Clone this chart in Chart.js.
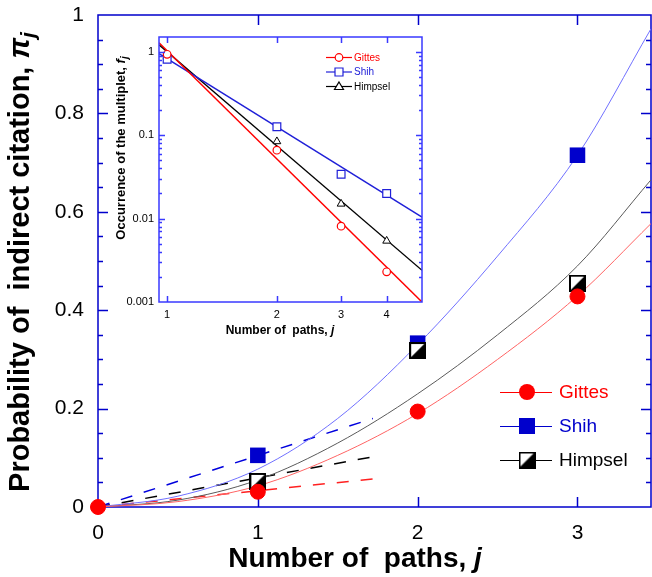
<!DOCTYPE html>
<html>
<head>
<meta charset="utf-8">
<script src="https://cdn.jsdelivr.net/npm/chart.js@4.4.0/dist/chart.umd.min.js"></script>
<style>
  html, body { margin: 0; padding: 0; background: #fff; }
  #wrap { position: relative; width: 652px; height: 577px; }
  #main { position: absolute; left: 0; top: 0; }
  #inset { position: absolute; left: 100px; top: 20px; }
</style>
</head>
<body>
<div id="wrap">
  <canvas id="main" width="652" height="577"></canvas>
  <canvas id="inset" width="340" height="330"></canvas>
</div>
<script>
// ---- main panel data ----
var seriesNames = ['Gittes', 'Shih', 'Himpsel'];
var gittesJ = [0, 1, 2, 3];
var gittesPi = [0, 0.031, 0.194, 0.428];
var shihJ = [1, 2, 3];
var shihPi = [0.105, 0.333, 0.715];
var himpselJ = [1, 2, 3];
var himpselPi = [0.052, 0.318, 0.455];

// fitted curves
var fitJ = [0, 0.5, 1, 1.5, 2, 2.5, 3, 3.46];
var gittesFit = [0, 0.011, 0.043, 0.105, 0.19, 0.3, 0.429, 0.576];
var shihFit = [0, 0.022, 0.077, 0.18, 0.33, 0.51, 0.715, 0.972];
var himpselFit = [0, 0.014, 0.055, 0.13, 0.23, 0.35, 0.49, 0.665];

// dashed lines near the origin
var dashJ = [0, 1.72];
var gittesDash = [0, 0.057];
var shihDash = [0, 0.18];
var himpselDash = [0, 0.102];

var xTicks = [0, 1, 2, 3];
var yTicks = [0, 0.2, 0.4, 0.6, 0.8, 1];

// ---- inset data (log-log) ----
var insetJ = [1, 2, 3, 4];
var gittesF = [0.93, 0.066, 0.0081, 0.0023];
var shihF = [0.81, 0.126, 0.034, 0.020];
var himpselF = [0.89, 0.084, 0.015, 0.0054];
var insetFitJ = [0.95, 5];
var gittesFFit = [1.28, 0.001];
var shihFFit = [0.95, 0.0104];
var himpselFFit = [1.21, 0.0024];
var insetXTicks = [1, 2, 3, 4];
var insetYTicks = [0.001, 0.01, 0.1, 1];

var FONT = "'Liberation Sans', Arial, sans-serif";
var RED = '#ff0000', BLUE = '#0000cc', BLACK = '#000000';

function pts(xs, ys) {
  return xs.map(function (x, i) { return { x: x, y: ys[i] }; });
}

function halfSquare(size) {
  var c = document.createElement('canvas');
  c.width = size; c.height = size;
  var g = c.getContext('2d');
  g.fillStyle = '#fff';
  g.fillRect(0, 0, size, size);
  g.fillStyle = '#000';
  g.beginPath();
  g.moveTo(size, 0); g.lineTo(size, size); g.lineTo(0, size);
  g.closePath(); g.fill();
  g.strokeStyle = '#000'; g.lineWidth = 2;
  g.strokeRect(1, 1, size - 2, size - 2);
  return c;
}
var himpselMark = halfSquare(17);

// rich text: parts drawn one after another, centred on (cx, cy)
function drawRich(ctx, parts, cx, cy, vertical) {
  ctx.save();
  ctx.translate(cx, cy);
  if (vertical) ctx.rotate(-Math.PI / 2);
  ctx.textBaseline = 'alphabetic';
  ctx.textAlign = 'left';
  var total = 0;
  parts.forEach(function (p) { ctx.font = p.font; total += ctx.measureText(p.t).width; });
  var x = -total / 2;
  parts.forEach(function (p) {
    ctx.font = p.font;
    ctx.fillStyle = p.color || '#000';
    ctx.fillText(p.t, x, p.dy || 0);
    x += ctx.measureText(p.t).width;
  });
  ctx.restore();
}

function drawFrame(chart, cfg) {
  var ctx = chart.ctx, a = chart.chartArea;
  var xs = chart.scales.x, ys = chart.scales.y;
  ctx.save();
  ctx.strokeStyle = cfg.color;
  ctx.lineWidth = cfg.width;
  ctx.beginPath();
  cfg.xMajor.forEach(function (v) {
    var p = Math.round(xs.getPixelForValue(v)) + 0.5;
    if (p < a.left + 2 || p > a.right - 2) return;
    ctx.moveTo(p, a.bottom); ctx.lineTo(p, a.bottom - cfg.major);
    ctx.moveTo(p, a.top); ctx.lineTo(p, a.top + cfg.major);
  });
  cfg.yMajor.forEach(function (v) {
    var p = Math.round(ys.getPixelForValue(v)) + 0.5;
    if (p < a.top + 2 || p > a.bottom - 2) return;
    ctx.moveTo(a.left, p); ctx.lineTo(a.left + cfg.major, p);
    ctx.moveTo(a.right, p); ctx.lineTo(a.right - cfg.major, p);
  });
  cfg.yMinor.forEach(function (v) {
    var p = Math.round(ys.getPixelForValue(v)) + 0.5;
    if (p < a.top + 2 || p > a.bottom - 2) return;
    ctx.moveTo(a.left, p); ctx.lineTo(a.left + cfg.minor, p);
    ctx.moveTo(a.right, p); ctx.lineTo(a.right - cfg.minor, p);
  });
  ctx.stroke();
  ctx.strokeRect(a.left, a.top, a.right - a.left, a.bottom - a.top);
  ctx.restore();
}

// fix the axis box sizes and drop the extra label padding Chart.js adds
function fixX(h) {
  return function (s) { s.height = h; s.paddingLeft = 0; s.paddingRight = 0; };
}
function fixY(w) {
  return function (s) { s.width = w; s.paddingTop = 0; s.paddingBottom = 0; };
}

// ---------------- main chart ----------------
var mainMinor = [];
for (var k = 1; k < 20; k++) { if (k % 4) mainMinor.push(k * 0.05); }

var mainPlugin = {
  id: 'mainDecor',
  beforeDatasetsDraw: function (chart) {
    drawFrame(chart, { color: BLUE, width: 1.5, major: 10, minor: 5,
      xMajor: xTicks, yMajor: yTicks, yMinor: mainMinor });
  },
  afterDraw: function (chart) {
    var ctx = chart.ctx;
    drawRich(ctx, [
      { t: 'Probability of  indirect citation, ', font: 'bold 29px ' + FONT },
      { t: '\u03c0', font: 'italic bold 29px ' + FONT },
      { t: 'j', font: 'italic bold 21px ' + FONT, dy: 6 }
    ], 29, 262, true);
    drawRich(ctx, [
      { t: 'Number of  paths, ', font: 'bold 28px ' + FONT },
      { t: 'j', font: 'italic bold 28px ' + FONT }
    ], 355, 567, false);

    // legend
    var rows = [
      { name: seriesNames[0], color: RED, y: 392 },
      { name: seriesNames[1], color: BLUE, y: 426 },
      { name: seriesNames[2], color: BLACK, y: 460 }
    ];
    rows.forEach(function (r, i) {
      ctx.save();
      ctx.strokeStyle = r.color; ctx.lineWidth = 1;
      ctx.beginPath(); ctx.moveTo(500, r.y + 0.5); ctx.lineTo(552, r.y + 0.5); ctx.stroke();
      if (i === 0) {
        ctx.fillStyle = RED; ctx.beginPath(); ctx.arc(527, r.y, 8, 0, Math.PI * 2); ctx.fill();
      } else if (i === 1) {
        ctx.fillStyle = BLUE; ctx.fillRect(519, r.y - 8, 16, 16);
      } else {
        ctx.drawImage(himpselMark, 527 - 8.5, r.y - 8.5);
      }
      ctx.font = '19px ' + FONT;
      ctx.fillStyle = r.color;
      ctx.textBaseline = 'middle';
      ctx.fillText(r.name, 559, r.y + 1);
      ctx.restore();
    });
  }
};

var tickFont = { family: FONT, size: 21 };

new Chart(document.getElementById('main'), {
  type: 'line',
  data: {
    datasets: [
      { label: 'Gittes', data: pts(gittesJ, gittesPi), showLine: false, order: 0, clip: false,
        pointStyle: 'circle', pointRadius: 7.5, pointBackgroundColor: RED, pointBorderColor: RED, pointBorderWidth: 1 },
      { label: 'Himpsel', data: pts(himpselJ, himpselPi), showLine: false, order: 1, clip: false,
        pointStyle: himpselMark, pointRadius: 8 },
      { label: 'Shih', data: pts(shihJ, shihPi), showLine: false, order: 2, clip: false,
        pointStyle: 'rect', pointRadius: 11, pointBackgroundColor: BLUE, pointBorderColor: BLUE, pointBorderWidth: 0 },
      { label: 'Gittes fit', data: pts(fitJ, gittesFit), order: 3, borderColor: '#ff6464', borderWidth: 1,
        pointRadius: 0, cubicInterpolationMode: 'monotone' },
      { label: 'Shih fit', data: pts(fitJ, shihFit), order: 3, borderColor: '#7070ff', borderWidth: 1,
        pointRadius: 0, cubicInterpolationMode: 'monotone' },
      { label: 'Himpsel fit', data: pts(fitJ, himpselFit), order: 3, borderColor: '#5a5a5a', borderWidth: 1,
        pointRadius: 0, cubicInterpolationMode: 'monotone' },
      { label: 'Gittes dash', data: pts(dashJ, gittesDash), order: 4, borderColor: '#ff2020', borderWidth: 1.5,
        borderDash: [12, 12], pointRadius: 0 },
      { label: 'Shih dash', data: pts(dashJ, shihDash), order: 4, borderColor: '#0000dd', borderWidth: 1.5,
        borderDash: [12, 12], pointRadius: 0 },
      { label: 'Himpsel dash', data: pts(dashJ, himpselDash), order: 4, borderColor: '#000000', borderWidth: 1.5,
        borderDash: [12, 12], pointRadius: 0 }
    ]
  },
  options: {
    responsive: false, animation: false, devicePixelRatio: 1,
    layout: { autoPadding: false, padding: { left: 0, right: 1, top: 15, bottom: 0 } },
    plugins: { legend: { display: false }, tooltip: { enabled: false } },
    scales: {
      x: {
        type: 'linear', min: 0, max: 3.46,
        grid: { display: false, drawTicks: false }, border: { display: false },
        afterBuildTicks: function (s) { s.ticks = xTicks.map(function (v) { return { value: v }; }); },
        afterFit: fixX(70),
        ticks: { padding: 14, font: tickFont, color: '#000', maxRotation: 0, autoSkip: false,
          callback: function (v) { return String(v); } }
      },
      y: {
        type: 'linear', min: 0, max: 1,
        grid: { display: false, drawTicks: false }, border: { display: false },
        afterBuildTicks: function (s) { s.ticks = yTicks.map(function (v) { return { value: v }; }); },
        afterFit: fixY(98),
        ticks: { padding: 14, font: tickFont, color: '#000', autoSkip: false,
          callback: function (v) { return String(v); } }
      }
    }
  },
  plugins: [mainPlugin]
});

// ---------------- inset chart ----------------
var insetMinor = [];
insetYTicks.forEach(function (d) {
  for (var m = 2; m <= 9; m++) { if (d * m <= 1.5) insetMinor.push(d * m); }
});

var insetPlugin = {
  id: 'insetDecor',
  afterDraw: function (chart) {
    var ctx = chart.ctx;
    drawFrame(chart, { color: '#3a3aff', width: 1.5, major: 6, minor: 3,
      xMajor: insetXTicks, yMajor: insetYTicks, yMinor: insetMinor });

    drawRich(ctx, [
      { t: 'Occurrence of the multiplet, ', font: 'bold 13px ' + FONT },
      { t: 'f', font: 'italic bold 13px ' + FONT },
      { t: 'j', font: 'italic bold 10px ' + FONT, dy: 3 }
    ], 25, 128, true);
    drawRich(ctx, [
      { t: 'Number of  paths, ', font: 'bold 12px ' + FONT },
      { t: 'j', font: 'italic bold 12px ' + FONT }
    ], 180, 314, false);

    var rows = [
      { name: seriesNames[0], color: RED, y: 37.5, style: 'circle' },
      { name: seriesNames[1], color: '#2020d8', y: 52, style: 'rect' },
      { name: seriesNames[2], color: BLACK, y: 66.5, style: 'triangle' }
    ];
    rows.forEach(function (r) {
      ctx.save();
      ctx.strokeStyle = r.color; ctx.lineWidth = 1.2;
      ctx.beginPath(); ctx.moveTo(226, r.y); ctx.lineTo(252, r.y); ctx.stroke();
      ctx.fillStyle = '#fff';
      ctx.beginPath();
      if (r.style === 'circle') { ctx.arc(239, r.y, 3.8, 0, Math.PI * 2); }
      else if (r.style === 'rect') { ctx.rect(235, r.y - 4, 8, 8); }
      else { ctx.moveTo(239, r.y - 4.5); ctx.lineTo(243.5, r.y + 3); ctx.lineTo(234.5, r.y + 3); ctx.closePath(); }
      ctx.fill(); ctx.stroke();
      ctx.font = '10px ' + FONT;
      ctx.fillStyle = r.color;
      ctx.textBaseline = 'middle';
      ctx.fillText(r.name, 254, r.y + 0.5);
      ctx.restore();
    });
  }
};

var insetTickFont = { family: FONT, size: 11 };

new Chart(document.getElementById('inset'), {
  type: 'line',
  data: {
    datasets: [
      { label: 'Gittes', data: pts(insetJ, gittesF), showLine: false, order: 0,
        pointStyle: 'circle', pointRadius: 3.8, pointBackgroundColor: '#fff', pointBorderColor: RED, pointBorderWidth: 1.2 },
      { label: 'Shih', data: pts(insetJ, shihF), showLine: false, order: 0,
        pointStyle: 'rect', pointRadius: 5.5, pointBackgroundColor: '#fff', pointBorderColor: '#2020d8', pointBorderWidth: 1.2 },
      { label: 'Himpsel', data: pts(insetJ, himpselF), showLine: false, order: 0,
        pointStyle: 'triangle', pointRadius: 4.5, pointBackgroundColor: '#fff', pointBorderColor: BLACK, pointBorderWidth: 1 },
      { label: 'Gittes fit', data: pts(insetFitJ, gittesFFit), order: 1, borderColor: RED, borderWidth: 1.5, pointRadius: 0 },
      { label: 'Shih fit', data: pts(insetFitJ, shihFFit), order: 1, borderColor: '#2020d8', borderWidth: 1.5, pointRadius: 0 },
      { label: 'Himpsel fit', data: pts(insetFitJ, himpselFFit), order: 1, borderColor: BLACK, borderWidth: 1.3, pointRadius: 0 }
    ]
  },
  options: {
    responsive: false, animation: false, devicePixelRatio: 1,
    layout: { autoPadding: false, padding: { left: 0, right: 18, top: 17, bottom: 0 } },
    plugins: { legend: { display: false }, tooltip: { enabled: false } },
    scales: {
      x: {
        type: 'logarithmic', min: 0.95, max: 5,
        grid: { display: false, drawTicks: false }, border: { display: false },
        afterBuildTicks: function (s) { s.ticks = insetXTicks.map(function (v) { return { value: v }; }); },
        afterFit: fixX(48),
        ticks: { padding: 6, font: insetTickFont, color: '#000', maxRotation: 0, autoSkip: false,
          callback: function (v) { return String(v); } }
      },
      y: {
        type: 'logarithmic', min: 0.001, max: 1.5,
        grid: { display: false, drawTicks: false }, border: { display: false },
        afterBuildTicks: function (s) { s.ticks = insetYTicks.map(function (v) { return { value: v }; }); },
        afterFit: fixY(59),
        ticks: { padding: 5, font: insetTickFont, color: '#000', autoSkip: false,
          callback: function (v) { return String(v); } }
      }
    }
  },
  plugins: [insetPlugin]
});
</script>
</body>
</html>
